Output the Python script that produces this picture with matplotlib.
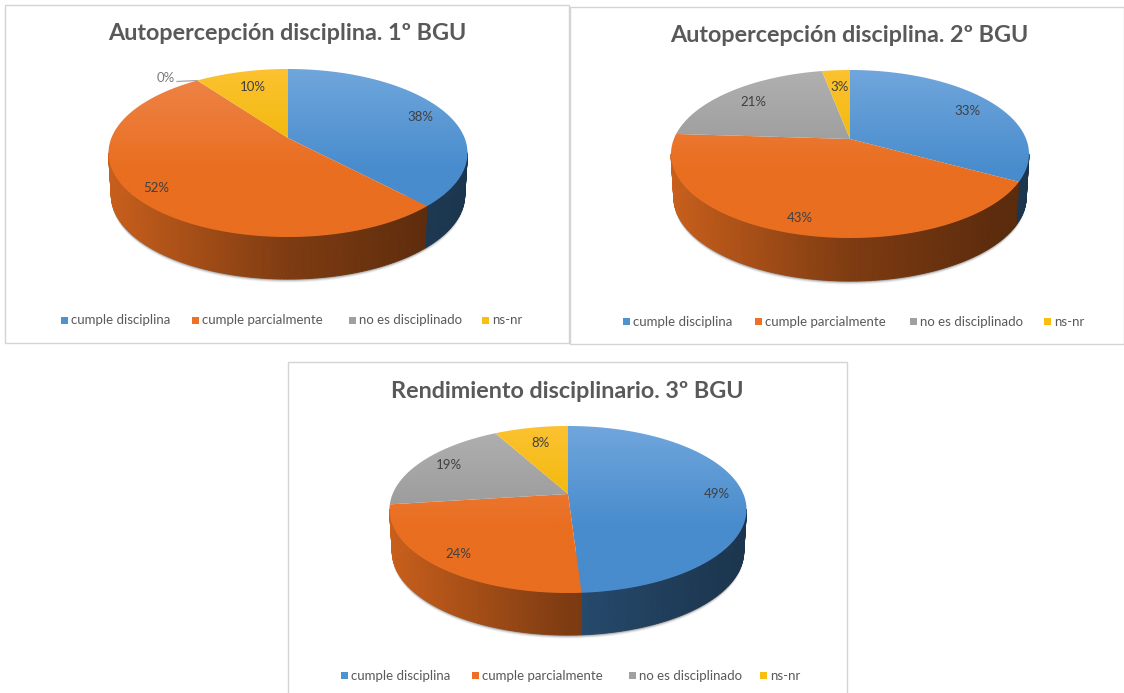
import numpy as np
import matplotlib
matplotlib.use("Agg")
import matplotlib.pyplot as plt
from matplotlib.patches import Polygon, Rectangle
from matplotlib.collections import PolyCollection

categories = ["cumple disciplina", "cumple parcialmente", "no es disciplinado", "ns-nr"]
titles = ["Autopercepción disciplina. 1º BGU", "Autopercepción disciplina. 2º BGU", "Rendimiento disciplinario. 3º BGU"]
values_1 = [38, 52, 0, 10]
values_2 = [33, 43, 21, 3]
values_3 = [49, 24, 19, 8]

top_light = [(112, 166, 220), (238, 133, 74), (176, 176, 176), (252, 194, 48)]
top_base = [(72, 140, 205), (233, 110, 32), (152, 152, 152), (238, 182, 0)]
legend_cols = [(79, 146, 208), (237, 112, 38), (160, 160, 160), (250, 190, 15)]

layout = [
    dict(vals=values_1, frame=(5, 5, 569, 343), cx=288, vy=138, rx=179.5, top=69, bot=237, d=42,
         title=(287, 33), leg_y=320.5, leg_x=[71, 202, 359, 492],
         labels=[(420, 117), (156, 188), (166, 78.5), (253, 87)]),
    dict(vals=values_2, frame=(570, 7, 1124, 344), cx=850, vy=139, rx=179, top=70, bot=238, d=43,
         title=(849.5, 35), leg_y=321.5, leg_x=[633, 765, 920, 1054],
         labels=[(967, 111), (800, 218), (753, 102), (840, 87)]),
    dict(vals=values_3, frame=(288, 362, 847, 694), cx=568, vy=494, rx=178.5, top=426, bot=593, d=42,
         title=(567, 391), leg_y=675.5, leg_x=[351, 482, 639, 770],
         labels=[(717, 494), (458, 554), (449, 465), (541, 443)]),
]

fig = plt.figure(figsize=(11.24, 6.93), dpi=100)
ax = fig.add_axes([0, 0, 1, 1])
ax.axis("off")
FONT = "Lato"
rgb = lambda c: tuple(v / 255 for v in c)


def projector(p):
    up, down = p["vy"] - p["top"], p["bot"] - p["vy"]
    k = (down - up) / (down + up)
    a = up * (1 + k)
    b = p["rx"] * np.sqrt(1 - k * k)

    def proj(t, shrink=1.0, dy=0.0):
        xu, yu = np.sin(t), np.cos(t)
        den = 1 + k * yu
        return p["cx"] + shrink * b * xu / den, p["vy"] - a * yu / den + dy
    return proj, k


def draw_pie(p):
    x0, y0, x1, y1 = p["frame"]
    ax.add_patch(Rectangle((x0, y0), x1 - x0, y1 - y0, fc="white", ec="#d4d4d4", lw=1.0, zorder=1))
    proj, k = projector(p)
    vals = np.array(p["vals"], float)
    edges = np.concatenate([[0], np.cumsum(vals)]) / vals.sum() * 2 * np.pi
    left, right = p["cx"] - p["rx"], p["cx"] + p["rx"]
    t_right = np.arccos(-k)
    t_left = 2 * np.pi - t_right

    # soft shadow under the wall (front half only)
    tt = np.linspace(t_right, t_left, 181)
    tx, ty = proj(tt, 0.985, p["d"] - 8)
    for off, al in [(3.5, .06), (2.5, .10), (1.5, .16), (0.7, .25)]:
        sx, sy = proj(tt, 0.985, p["d"] + off)
        ax.add_patch(Polygon(np.c_[sx, sy], fc="black", ec="none", alpha=al, zorder=2))

    # side wall: only the part facing the viewer
    for i, v in enumerate(vals):
        lo, hi = max(edges[i], t_right), min(edges[i + 1], t_left)
        if v == 0 or hi <= lo:
            continue
        n = max(2, int(np.degrees(hi - lo)))
        ts = np.linspace(lo, hi, n + 1)
        polys, cols = [], []
        for t0, t1 in zip(ts[:-1], ts[1:]):
            xa, ya = proj(t0)
            xb, yb = proj(t1)
            xc, yc = proj(t1, 0.985, p["d"])
            xd, yd = proj(t0, 0.985, p["d"])
            polys.append([(xa, ya), (xb, yb), (xc, yc), (xd, yd)])
            u = ((xa + xb) / 2 - left) / (right - left)
            f = np.interp(u, [0, .5, .9, 1], [.86, .54, .40, .38])
            cols.append(tuple(np.array(rgb(top_base[i])) * f))
        ax.add_collection(PolyCollection(polys, facecolors=cols, edgecolors=cols, linewidths=0.6, zorder=3))

    # top face with vertical gradient, clipped to each slice
    for i, v in enumerate(vals):
        if v == 0:
            continue
        ts = np.linspace(edges[i], edges[i + 1], 200)
        xs, ys = proj(ts)
        pts = np.vstack([[p["cx"], p["vy"]], np.c_[xs, ys]])
        poly = Polygon(pts, closed=True, fc="none", ec="none", transform=ax.transData)
        ax.add_patch(poly)
        s = np.linspace(0, 1, 256)
        w = np.clip(s / 0.6, 0, 1)[:, None]
        grad = (1 - w) * np.array(rgb(top_light[i])) + w * np.array(rgb(top_base[i]))
        im = ax.imshow(grad[:, None, :], extent=(left - 2, right + 2, p["bot"], p["top"]),
                       aspect="auto", zorder=4, interpolation="bilinear")
        im.set_clip_path(poly)

    # title, labels, legend
    ax.text(*p["title"], titles[layout.index(p)], ha="center", va="center", fontsize=16.8,
            fontweight="bold", family=FONT, color="#595959", zorder=6)
    for i, (v, (lx, ly)) in enumerate(zip(p["vals"], p["labels"])):
        col = "#7a7a7a" if v == 0 else "#404040"
        ax.text(lx, ly, f"{v}%", ha="center", va="center", fontsize=9.5, family=FONT, color=col, zorder=6)
        if v == 0:
            ex, ey = proj(edges[i])
            ax.plot([lx + 11, ex], [ly + 3, ey], color="#a6a6a6", lw=0.9, zorder=5)
    for i, (c, lx) in enumerate(zip(categories, p["leg_x"])):
        ax.add_patch(Rectangle((lx - 10.5, p["leg_y"] - 3.5), 7, 7, fc=rgb(legend_cols[i]), ec="none", zorder=6))
        ax.text(lx, p["leg_y"], c, ha="left", va="center", fontsize=9.5, family=FONT, color="#595959", zorder=6)


for p in layout:
    draw_pie(p)

ax.set_xlim(0, 1124)
ax.set_ylim(693, 0)
fig.savefig("out.png", dpi=100, facecolor="white")
